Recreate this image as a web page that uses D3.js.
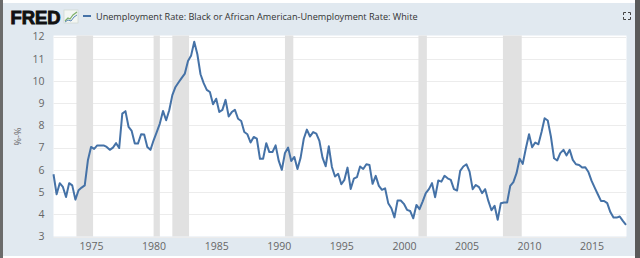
<!DOCTYPE html>
<html>
<head>
<meta charset="utf-8">
<script src="https://cdn.jsdelivr.net/npm/d3@7"></script>
<style>
  html, body { margin: 0; padding: 0; background: #fff; }
  svg { display: block; }
</style>
</head>
<body>
<div id="chart"></div>
<script>
// Chart size
var width = 640;
var height = 258;
var margin = { top: 36.5, right: 14, bottom: 21.5, left: 53.5 };

// Quarterly series, first value is 1972 Q1
var startYear = 1972;
var values = [
  5.8, 4.9, 5.4, 5.23,    4.78, 5.4, 5.3, 4.66,   5.08, 5.2, 5.3, 6.43,
  7.03, 6.94, 7.1, 7.1,   7.1, 7.03, 6.9, 7.0,    7.2, 6.98, 8.53, 8.64,
  7.93, 7.75, 7.18, 7.18, 7.6, 7.59, 7.03, 6.9,   7.33, 7.7, 8.08, 8.65,
  8.23, 8.68, 9.36, 9.73, 9.94, 10.14, 10.33, 10.9, 11.15, 11.76, 11.2, 10.3,
  9.9, 9.6, 9.5, 8.95,    9.2, 8.6, 8.7, 9.15,    8.4, 8.6, 8.7, 8.3,
  8.2, 7.7, 7.6, 7.23,    7.48, 7.4, 6.5, 6.5,    7.2, 6.8, 6.8, 7.1,
  6.4, 6.0, 6.76, 7.0,    6.4, 6.58, 6.04, 6.55,  7.4, 7.81, 7.5, 7.7,
  7.63, 7.3, 6.55, 6.16,  7.06, 6.13, 5.7, 5.82,  5.35, 5.55, 6.1, 5.14,
  5.6, 5.67, 6.15, 6.04,  6.25, 6.22, 5.37, 5.73, 5.28, 5.1, 5.17, 4.5,
  4.27, 3.86, 4.62, 4.62, 4.47, 4.2, 4.15, 3.82,  4.42, 4.23, 4.57, 4.95,
  5.13, 5.4, 4.77, 5.52,  5.47, 5.73, 5.62, 5.55, 5.13, 5.07, 5.95, 6.15,
  6.25, 5.92, 5.13, 5.32, 5.22, 4.95, 5.13, 4.6,  4.18, 4.38, 3.75, 4.5,
  4.53, 4.53, 5.28, 5.45, 5.85, 6.5, 6.27, 6.97,  7.6, 7.02, 7.23, 7.15,
  7.7, 8.32, 8.22, 7.5,   6.52, 6.42, 6.75, 6.9,  6.65, 6.9, 6.45, 6.25,
  6.22, 6.1, 6.12, 5.9,   5.5, 5.2, 4.9, 4.6,     4.6, 4.5, 4.1, 3.85,
  3.85, 3.9, 3.7, 3.52
];

// Recession periods (shaded)
var recessions = [
  ["1973-11-01", "1975-03-01"],
  ["1980-01-01", "1980-07-01"],
  ["1981-07-01", "1982-11-01"],
  ["1990-07-01", "1991-03-01"],
  ["2001-03-01", "2001-11-01"],
  ["2007-12-01", "2009-06-01"]
];

var yTicks = [3, 4, 5, 6, 7, 8, 9, 10, 11, 12];
var xTickYears = [1975, 1980, 1985, 1990, 1995, 2000, 2005, 2010, 2015];
var seriesTitle = "Unemployment Rate: Black or African American-Unemployment Rate: White";
var yTitle = "%-%";

var parseDate = d3.timeParse("%Y-%m-%d");
var data = values.map(function (v, i) {
  return { date: new Date(startYear + Math.floor(i / 4), (i % 4) * 3, 1), value: v };
});

var svg = d3.select("#chart")
  .append("svg")
  .attr("width", width)
  .attr("height", height);

// Frame
svg.append("rect").attr("x", 0).attr("y", 0).attr("width", width).attr("height", height).attr("fill", "#ffffff");
svg.append("rect").attr("x", 3).attr("y", 3).attr("width", 632).attr("height", 253).attr("fill", "#e1e9f0");
svg.append("rect").attr("x", 0).attr("y", 0).attr("width", 3).attr("height", height).attr("fill", "#6b6b6b");
svg.append("rect").attr("x", 635).attr("y", 0).attr("width", 5).attr("height", height).attr("fill", "#5a5a5a");

var x = d3.scaleTime()
  .domain([data[0].date, data[data.length - 1].date])
  .range([margin.left, width - margin.right]);

var y = d3.scaleLinear()
  .domain([3, 12])
  .range([height - margin.bottom, margin.top]);

// Plot background
svg.append("rect")
  .attr("x", margin.left)
  .attr("y", margin.top - 1)
  .attr("width", width - margin.right - margin.left + 0.5)
  .attr("height", height - margin.bottom - margin.top + 1)
  .attr("fill", "#ffffff");

// Gridlines
svg.append("g")
  .selectAll("line")
  .data(yTicks)
  .enter().append("line")
  .attr("x1", margin.left)
  .attr("x2", width - margin.right)
  .attr("y1", function (d) { return Math.round(y(d)) + 0.5; })
  .attr("y2", function (d) { return Math.round(y(d)) + 0.5; })
  .attr("stroke", "#ececec")
  .attr("stroke-width", 1);

// Recession bars
svg.append("g")
  .selectAll("rect")
  .data(recessions)
  .enter().append("rect")
  .attr("x", function (d) { return x(parseDate(d[0])); })
  .attr("width", function (d) { return x(parseDate(d[1])) - x(parseDate(d[0])); })
  .attr("y", margin.top - 1)
  .attr("height", height - margin.bottom - margin.top + 1)
  .attr("fill", "#e1e1e1");

// Y axis labels
var yAxis = svg.append("g")
  .attr("transform", "translate(" + (margin.left - 9) + ",0)")
  .call(d3.axisLeft(y).tickValues(yTicks).tickSize(0).tickPadding(0));
yAxis.select(".domain").remove();
yAxis.selectAll("text")
  .style("font-family", "'Open Sans', sans-serif")
  .style("font-size", "10.5px")
  .style("fill", "#666");

// X axis labels
var xAxis = svg.append("g")
  .attr("transform", "translate(0," + (height - margin.bottom) + ")")
  .call(d3.axisBottom(x)
    .tickValues(xTickYears.map(function (yr) { return new Date(yr, 0, 1); }))
    .tickFormat(d3.timeFormat("%Y"))
    .tickSize(0)
    .tickPadding(6));
xAxis.select(".domain").remove();
xAxis.selectAll("text")
  .style("font-family", "'Open Sans', sans-serif")
  .style("font-size", "10.5px")
  .style("fill", "#666");

// Y axis title
svg.append("text")
  .attr("transform", "translate(21," + ((margin.top + height - margin.bottom) / 2) + ") rotate(-90)")
  .attr("text-anchor", "middle")
  .style("font-family", "'Open Sans', sans-serif")
  .style("font-size", "9px")
  .style("fill", "#666")
  .text(yTitle);

// Series line
var line = d3.line()
  .x(function (d) { return x(d.date); })
  .y(function (d) { return y(d.value); });

svg.append("path")
  .datum(data)
  .attr("fill", "none")
  .attr("stroke", "#4572a7")
  .attr("stroke-width", 2)
  .attr("stroke-linejoin", "round")
  .attr("d", line);

// Header: FRED logo
svg.append("text")
  .attr("x", 10.5)
  .attr("y", 23.5)
  .attr("textLength", 50)
  .attr("lengthAdjust", "spacingAndGlyphs")
  .style("font-family", "'Liberation Sans', Arial, sans-serif")
  .style("font-weight", "bold")
  .style("font-size", "17.5px")
  .style("fill", "#111")
  .style("stroke", "#111")
  .style("stroke-width", "0.9px")
  .text("FRED");

// small chart icon next to logo
var icon = svg.append("g").attr("transform", "translate(64,10)");
icon.append("rect").attr("x", 0).attr("y", 0).attr("width", 14).attr("height", 13)
  .attr("fill", "#f3f6f3").attr("stroke", "#c9d3c9").attr("stroke-width", 0.6);
icon.append("polyline").attr("points", "1,11 4,8 6,9 9,5 13,2")
  .attr("fill", "none").attr("stroke", "#7fb06a").attr("stroke-width", 1.2);
icon.append("polyline").attr("points", "1,12 4,10 7,11 10,7 13,5")
  .attr("fill", "none").attr("stroke", "#5a86b5").attr("stroke-width", 1);

// Legend line and title
svg.append("line")
  .attr("x1", 83).attr("x2", 91)
  .attr("y1", 16).attr("y2", 16)
  .attr("stroke", "#4572a7")
  .attr("stroke-width", 2);

var title = svg.append("text")
  .attr("x", 96)
  .attr("y", 20)
  .style("font-family", "'Open Sans', sans-serif")
  .style("font-size", "10.5px")
  .style("fill", "#333")
  .text(seriesTitle);
var tw = title.node().getComputedTextLength();
title.style("font-size", (10.5 * 322 / tw) + "px");

// Fullscreen icon
var fs = svg.append("g")
  .attr("transform", "translate(623.5,12.5)")
  .attr("fill", "none")
  .attr("stroke", "#444")
  .attr("stroke-width", 1);
fs.append("path").attr("d", "M0,2.5 V0 H2.5");
fs.append("path").attr("d", "M4.5,0 H7 V2.5");
fs.append("path").attr("d", "M0,4.5 V7 H2.5");
fs.append("path").attr("d", "M4.5,7 H7 V4.5");
</script>
</body>
</html>
